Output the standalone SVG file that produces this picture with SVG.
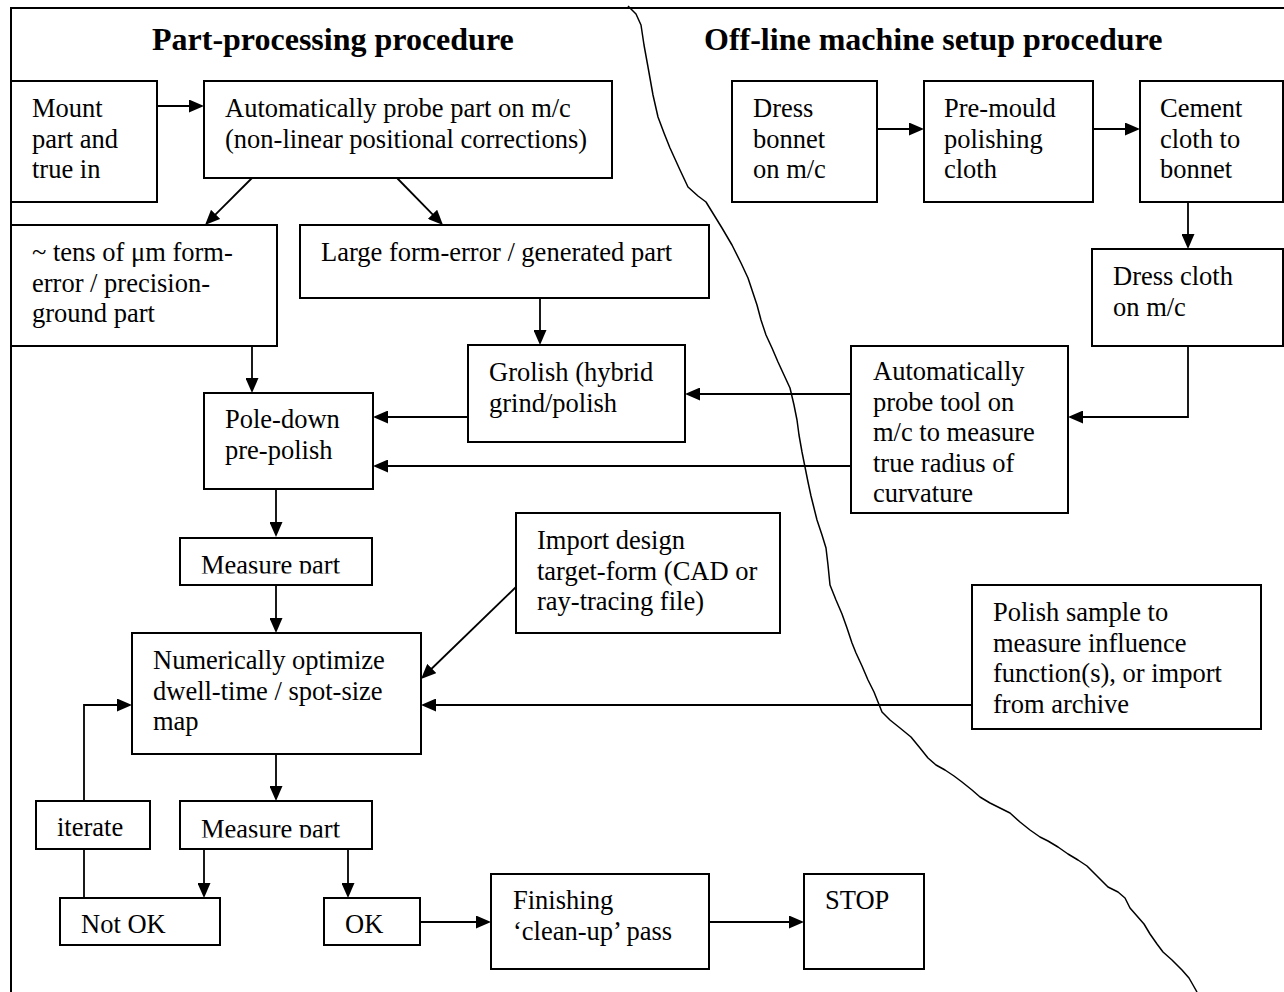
<svg xmlns="http://www.w3.org/2000/svg" width="1284" height="992" viewBox="0 0 1284 992">
<style>
  .box { fill: #fff; stroke: #000; stroke-width: 2; }
  .t { font-family: "Liberation Serif", "Times New Roman", serif; font-size: 26.5px; fill: #000; }
  .title { font-family: "Liberation Serif", "Times New Roman", serif; font-size: 32px; font-weight: bold; fill: #000; }
  .c { fill: none; stroke: #000; stroke-width: 1.8; }
  .ca { fill: none; stroke: #000; stroke-width: 1.8; marker-end: url(#arr); }
  .frame { fill: none; stroke: #000; stroke-width: 2; }
  .wave { fill: none; stroke: #000; stroke-width: 1.5; stroke-linejoin: round; }
</style>
<defs>
  <marker id="arr" markerUnits="userSpaceOnUse" markerWidth="15" markerHeight="13" refX="5" refY="6.5" orient="auto">
    <path d="M0,0 L15,6.5 L0,13 z" fill="#000"/>
  </marker>
  <clipPath id="clipM1"><rect x="180" y="538" width="192" height="35.5"/></clipPath>
  <clipPath id="clipM2"><rect x="180" y="801" width="192" height="36.5"/></clipPath>
</defs>
<rect width="1284" height="992" fill="#fff"/>
<path class="frame" d="M11,992 V8 H1290"/>
<polyline class="wave" points="628,6 636,14 641,25 644,45 648,67 653,95 658,117 664,133 670,148 680,170 688,187 698,196 706,202 714,215 722,228 732,245 741,263 748,278 752,290 757,305 761,320 766,335 772,348 778,362 784,375 790,388 794,405 797,420 799,435 802,452 805,467 808,482 811,496 814,508 817,520 822,535 826,548 828,565 830,585 836,600 842,614 847,628 852,643 856,653 862,666 868,680 874,692 882,712 890,720 900,728 911,737 920,748 928,758 936,765 945,770 954,776 962,782 972,790 980,797 990,803 1000,808 1010,813 1020,822 1030,830 1040,837 1048,841 1058,847 1068,854 1078,860 1087,866 1097,876 1108,887 1118,892 1125,898 1130,908 1137,916 1144,924 1150,934 1157,944 1163,952 1172,960 1182,970 1189,978 1193,985 1197,992"/>
<text class="title" x="152" y="50">Part-processing procedure</text>
<text class="title" x="704" y="50">Off-line machine setup procedure</text>
<g id="connectors">
  <path class="ca" d="M157,106 H194"/>
  <path class="ca" d="M252,178 L212.1,217.9"/>
  <path class="ca" d="M397,178 L436,217.85"/>
  <path class="ca" d="M252,346 V383"/>
  <path class="ca" d="M540,298 V335"/>
  <path class="ca" d="M468,417 H383"/>
  <path class="ca" d="M851,394 H695"/>
  <path class="ca" d="M851,466 H383"/>
  <path class="ca" d="M877,129 H914"/>
  <path class="ca" d="M1093,129 H1130"/>
  <path class="ca" d="M1188,202 V239"/>
  <path class="ca" d="M1188,346 V417 H1078"/>
  <path class="ca" d="M276,489 V527"/>
  <path class="ca" d="M276,585 V623"/>
  <path class="ca" d="M516,587 L428.2,672"/>
  <path class="ca" d="M972,705 H431"/>
  <path class="ca" d="M276,754 V791"/>
  <path class="ca" d="M204,849 V888"/>
  <path class="ca" d="M348,849 V888"/>
  <path class="c" d="M84,898 V849"/>
  <path class="ca" d="M84,801 V705 H122"/>
  <path class="ca" d="M420,922 H481"/>
  <path class="ca" d="M709,922 H794"/>
</g>
<g id="mount">
  <rect class="box" x="11" y="81" width="146" height="121"/>
  <text class="t" y="117"><tspan x="32">Mount</tspan><tspan x="32" dy="30.5">part and</tspan><tspan x="32" dy="30.5">true in</tspan></text>
</g>
<g id="probe-part">
  <rect class="box" x="204" y="81" width="408" height="97"/>
  <text class="t" y="117"><tspan x="225">Automatically probe part on m/c</tspan><tspan x="225" dy="30.5">(non-linear positional corrections)</tspan></text>
</g>
<g id="tens-um">
  <rect class="box" x="11" y="225" width="266" height="121"/>
  <text class="t" y="261"><tspan x="32">~ tens of μm form-</tspan><tspan x="32" dy="30.5">error / precision-</tspan><tspan x="32" dy="30.5">ground part</tspan></text>
</g>
<g id="large-form-error">
  <rect class="box" x="300" y="225" width="409" height="73"/>
  <text class="t" x="321" y="261">Large form-error / generated part</text>
</g>
<g id="grolish">
  <rect class="box" x="468" y="345" width="217" height="97"/>
  <text class="t" y="381"><tspan x="489">Grolish (hybrid</tspan><tspan x="489" dy="30.5">grind/polish</tspan></text>
</g>
<g id="pole-down">
  <rect class="box" x="204" y="393" width="169" height="96"/>
  <text class="t" y="428"><tspan x="225">Pole-down</tspan><tspan x="225" dy="30.5">pre-polish</tspan></text>
</g>
<g id="measure-1">
  <rect class="box" x="180" y="538" width="192" height="47"/>
  <text class="t" x="201" y="574" clip-path="url(#clipM1)">Measure part</text>
</g>
<g id="import-design">
  <rect class="box" x="516" y="513" width="264" height="120"/>
  <text class="t" y="549"><tspan x="537">Import design</tspan><tspan x="537" dy="30.5">target-form (CAD or</tspan><tspan x="537" dy="30.5">ray-tracing file)</tspan></text>
</g>
<g id="optimize">
  <rect class="box" x="132" y="633" width="289" height="121"/>
  <text class="t" y="669"><tspan x="153">Numerically optimize</tspan><tspan x="153" dy="30.5">dwell-time / spot-size</tspan><tspan x="153" dy="30.5">map</tspan></text>
</g>
<g id="iterate">
  <rect class="box" x="36" y="801" width="114" height="48"/>
  <text class="t" x="57" y="836">iterate</text>
</g>
<g id="measure-2">
  <rect class="box" x="180" y="801" width="192" height="48"/>
  <text class="t" x="201" y="838" clip-path="url(#clipM2)">Measure part</text>
</g>
<g id="not-ok">
  <rect class="box" x="60" y="898" width="160" height="47"/>
  <text class="t" x="81" y="933">Not OK</text>
</g>
<g id="ok">
  <rect class="box" x="324" y="898" width="96" height="47"/>
  <text class="t" x="345" y="933">OK</text>
</g>
<g id="finishing">
  <rect class="box" x="491" y="874" width="218" height="95"/>
  <text class="t" y="909"><tspan x="513">Finishing</tspan><tspan x="513" dy="30.5">‘clean-up’ pass</tspan></text>
</g>
<g id="stop">
  <rect class="box" x="804" y="874" width="120" height="95"/>
  <text class="t" x="825" y="909">STOP</text>
</g>
<g id="dress-bonnet">
  <rect class="box" x="732" y="81" width="145" height="121"/>
  <text class="t" y="117"><tspan x="753">Dress</tspan><tspan x="753" dy="30.5">bonnet</tspan><tspan x="753" dy="30.5">on m/c</tspan></text>
</g>
<g id="pre-mould">
  <rect class="box" x="924" y="81" width="169" height="121"/>
  <text class="t" y="117"><tspan x="944">Pre-mould</tspan><tspan x="944" dy="30.5">polishing</tspan><tspan x="944" dy="30.5">cloth</tspan></text>
</g>
<g id="cement-cloth">
  <rect class="box" x="1140" y="81" width="143" height="121"/>
  <text class="t" y="117"><tspan x="1160">Cement</tspan><tspan x="1160" dy="30.5">cloth to</tspan><tspan x="1160" dy="30.5">bonnet</tspan></text>
</g>
<g id="dress-cloth">
  <rect class="box" x="1092" y="249" width="191" height="97"/>
  <text class="t" y="285"><tspan x="1113">Dress cloth</tspan><tspan x="1113" dy="30.5">on m/c</tspan></text>
</g>
<g id="probe-tool">
  <rect class="box" x="851" y="346" width="217" height="167"/>
  <text class="t" y="380"><tspan x="873">Automatically</tspan><tspan x="873" dy="30.5">probe tool on</tspan><tspan x="873" dy="30.5">m/c to measure</tspan><tspan x="873" dy="30.5">true radius of</tspan><tspan x="873" dy="30.5">curvature</tspan></text>
</g>
<g id="polish-sample">
  <rect class="box" x="972" y="585" width="289" height="144"/>
  <text class="t" y="621"><tspan x="993">Polish sample to</tspan><tspan x="993" dy="30.5">measure influence</tspan><tspan x="993" dy="30.5">function(s), or import</tspan><tspan x="993" dy="30.5">from archive</tspan></text>
</g>
</svg>
